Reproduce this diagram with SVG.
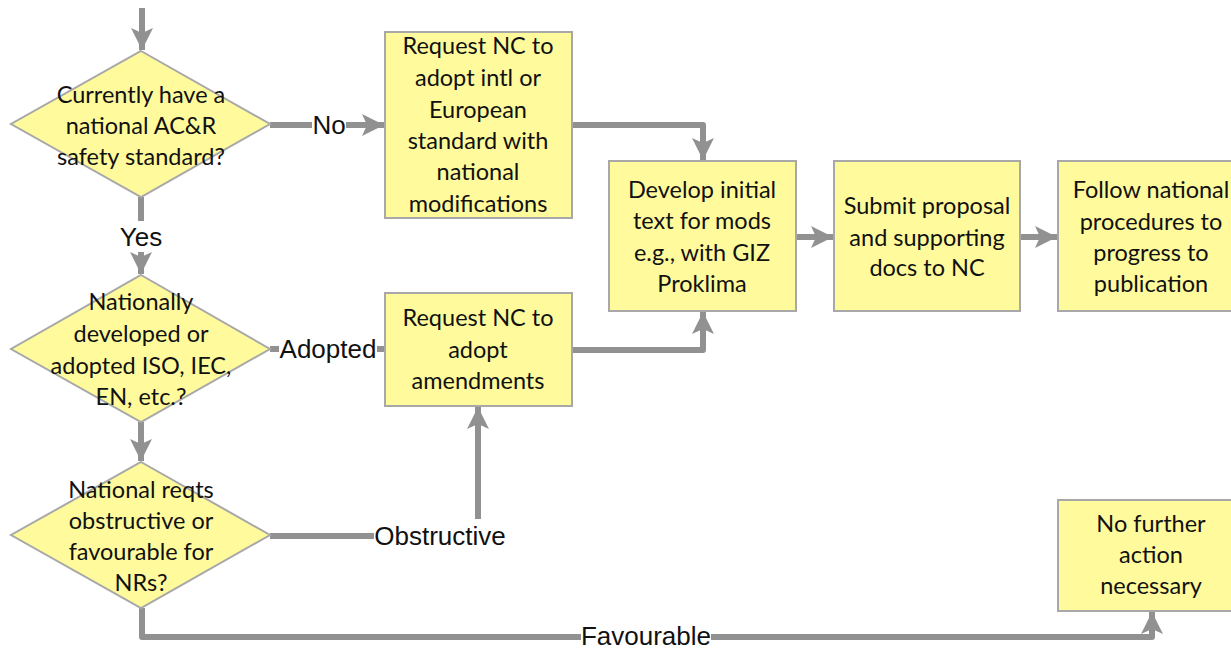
<svg xmlns="http://www.w3.org/2000/svg" width="1231" height="650" viewBox="0 0 1231 650">
  <defs>
    <marker id="arrow" markerUnits="userSpaceOnUse" markerWidth="24" markerHeight="24" viewBox="0 0 24 24" refX="22" refY="12" orient="auto">
      <path d="M0,1 L22,12 L0,23 L5,12 Z" fill="#919191"/>
    </marker>
    <style>
      .shape { fill: #FFFB9C; stroke: #A8A8A8; stroke-width: 2; }
      .node-text { font-family: Lato, "Open Sans", sans-serif; font-size: 23.5px; fill: #111; text-anchor: middle; }
      .conn { fill: none; stroke: #919191; stroke-width: 6; stroke-linejoin: round; }
      .label { font-family: "Liberation Sans", Arial, sans-serif; font-size: 26px; fill: #111; text-anchor: middle; }
      .label-bg { fill: #FFFFFF; }
    </style>
  </defs>

  <rect width="1231" height="650" fill="#FFFFFF"/>

  <!-- connectors -->
  <g id="connectors">
    <path class="conn" d="M142,8 L142,50" marker-end="url(#arrow)"/>
    <path class="conn" d="M270,125 L384,125" marker-end="url(#arrow)"/>
    <path class="conn" d="M141,197 L141,274" marker-end="url(#arrow)"/>
    <path class="conn" d="M270,349 L384,349"/>
    <path class="conn" d="M141,422 L141,461" marker-end="url(#arrow)"/>
    <path class="conn" d="M270,536 L478,536 L478,407" marker-end="url(#arrow)"/>
    <path class="conn" d="M142,608 L142,637 L1152,637 L1152,612" marker-end="url(#arrow)"/>
    <path class="conn" d="M572,125 L703,125 L703,160" marker-end="url(#arrow)"/>
    <path class="conn" d="M572,350 L703,350 L703,312" marker-end="url(#arrow)"/>
    <path class="conn" d="M795,237 L833,237" marker-end="url(#arrow)"/>
    <path class="conn" d="M1020,237 L1057,237" marker-end="url(#arrow)"/>

    <!-- connector labels -->
    <rect class="label-bg" x="312" y="112" width="34" height="28"/>
    <text class="label" x="329" y="134">No</text>
    <rect class="label-bg" x="118" y="221" width="46" height="31"/>
    <text class="label" x="141" y="246">Yes</text>
    <rect class="label-bg" x="279" y="334" width="98" height="32"/>
    <text class="label" x="328" y="358">Adopted</text>
    <rect class="label-bg" x="374" y="519" width="132" height="32"/>
    <text class="label" x="440" y="545">Obstructive</text>
    <rect class="label-bg" x="581" y="623" width="130" height="27"/>
    <text class="label" x="646" y="645" font-size="25.5">Favourable</text>
  </g>

  <!-- decision: existing standard -->
  <g id="q-current-standard">
    <polygon class="shape" points="141,51 270,124 141,197 11,124"/>
    <text class="node-text" x="141" y="103">Currently have a</text>
    <text class="node-text" x="141" y="134">national AC&amp;R</text>
    <text class="node-text" x="141" y="165">safety standard?</text>
  </g>

  <!-- decision: origin of standard -->
  <g id="q-origin">
    <polygon class="shape" points="141,275 270,349 141,422 11,349"/>
    <text class="node-text" x="141" y="310">Nationally</text>
    <text class="node-text" x="141" y="342">developed or</text>
    <text class="node-text" x="141" y="374">adopted ISO, IEC,</text>
    <text class="node-text" x="141" y="405">EN, etc.?</text>
  </g>

  <!-- decision: national requirements -->
  <g id="q-requirements">
    <polygon class="shape" points="141,462 270,535 141,608 11,535"/>
    <text class="node-text" x="141" y="498">National reqts</text>
    <text class="node-text" x="141" y="529">obstructive or</text>
    <text class="node-text" x="141" y="560">favourable for</text>
    <text class="node-text" x="141" y="591">NRs?</text>
  </g>

  <!-- request adoption with modifications -->
  <g id="request-adopt-intl">
    <rect class="shape" x="385" y="32" width="187" height="186"/>
    <text class="node-text" x="478" y="54">Request NC to</text>
    <text class="node-text" x="478" y="86">adopt intl or</text>
    <text class="node-text" x="478" y="118">European</text>
    <text class="node-text" x="478" y="149">standard with</text>
    <text class="node-text" x="478" y="180">national</text>
    <text class="node-text" x="478" y="212">modifications</text>
  </g>

  <!-- request amendments -->
  <g id="request-amendments">
    <rect class="shape" x="385" y="293" width="187" height="113"/>
    <text class="node-text" x="478" y="326">Request NC to</text>
    <text class="node-text" x="478" y="358">adopt</text>
    <text class="node-text" x="478" y="389">amendments</text>
  </g>

  <!-- develop text -->
  <g id="develop-text">
    <rect class="shape" x="609" y="161" width="187" height="150"/>
    <text class="node-text" x="702" y="198">Develop initial</text>
    <text class="node-text" x="702" y="229">text for mods</text>
    <text class="node-text" x="702" y="261">e.g., with GIZ</text>
    <text class="node-text" x="702" y="292">Proklima</text>
  </g>

  <!-- submit proposal -->
  <g id="submit-proposal">
    <rect class="shape" x="834" y="161" width="186" height="150"/>
    <text class="node-text" x="927" y="214">Submit proposal</text>
    <text class="node-text" x="927" y="246">and supporting</text>
    <text class="node-text" x="927" y="276">docs to NC</text>
  </g>

  <!-- follow national procedures -->
  <g id="follow-procedures">
    <rect class="shape" x="1058" y="161" width="187" height="150"/>
    <text class="node-text" x="1151" y="198">Follow national</text>
    <text class="node-text" x="1151" y="230">procedures to</text>
    <text class="node-text" x="1151" y="261">progress to</text>
    <text class="node-text" x="1151" y="292">publication</text>
  </g>

  <!-- no further action -->
  <g id="no-further-action">
    <rect class="shape" x="1058" y="500" width="187" height="111"/>
    <text class="node-text" x="1151" y="532">No further</text>
    <text class="node-text" x="1151" y="563">action</text>
    <text class="node-text" x="1151" y="594">necessary</text>
  </g>
</svg>
